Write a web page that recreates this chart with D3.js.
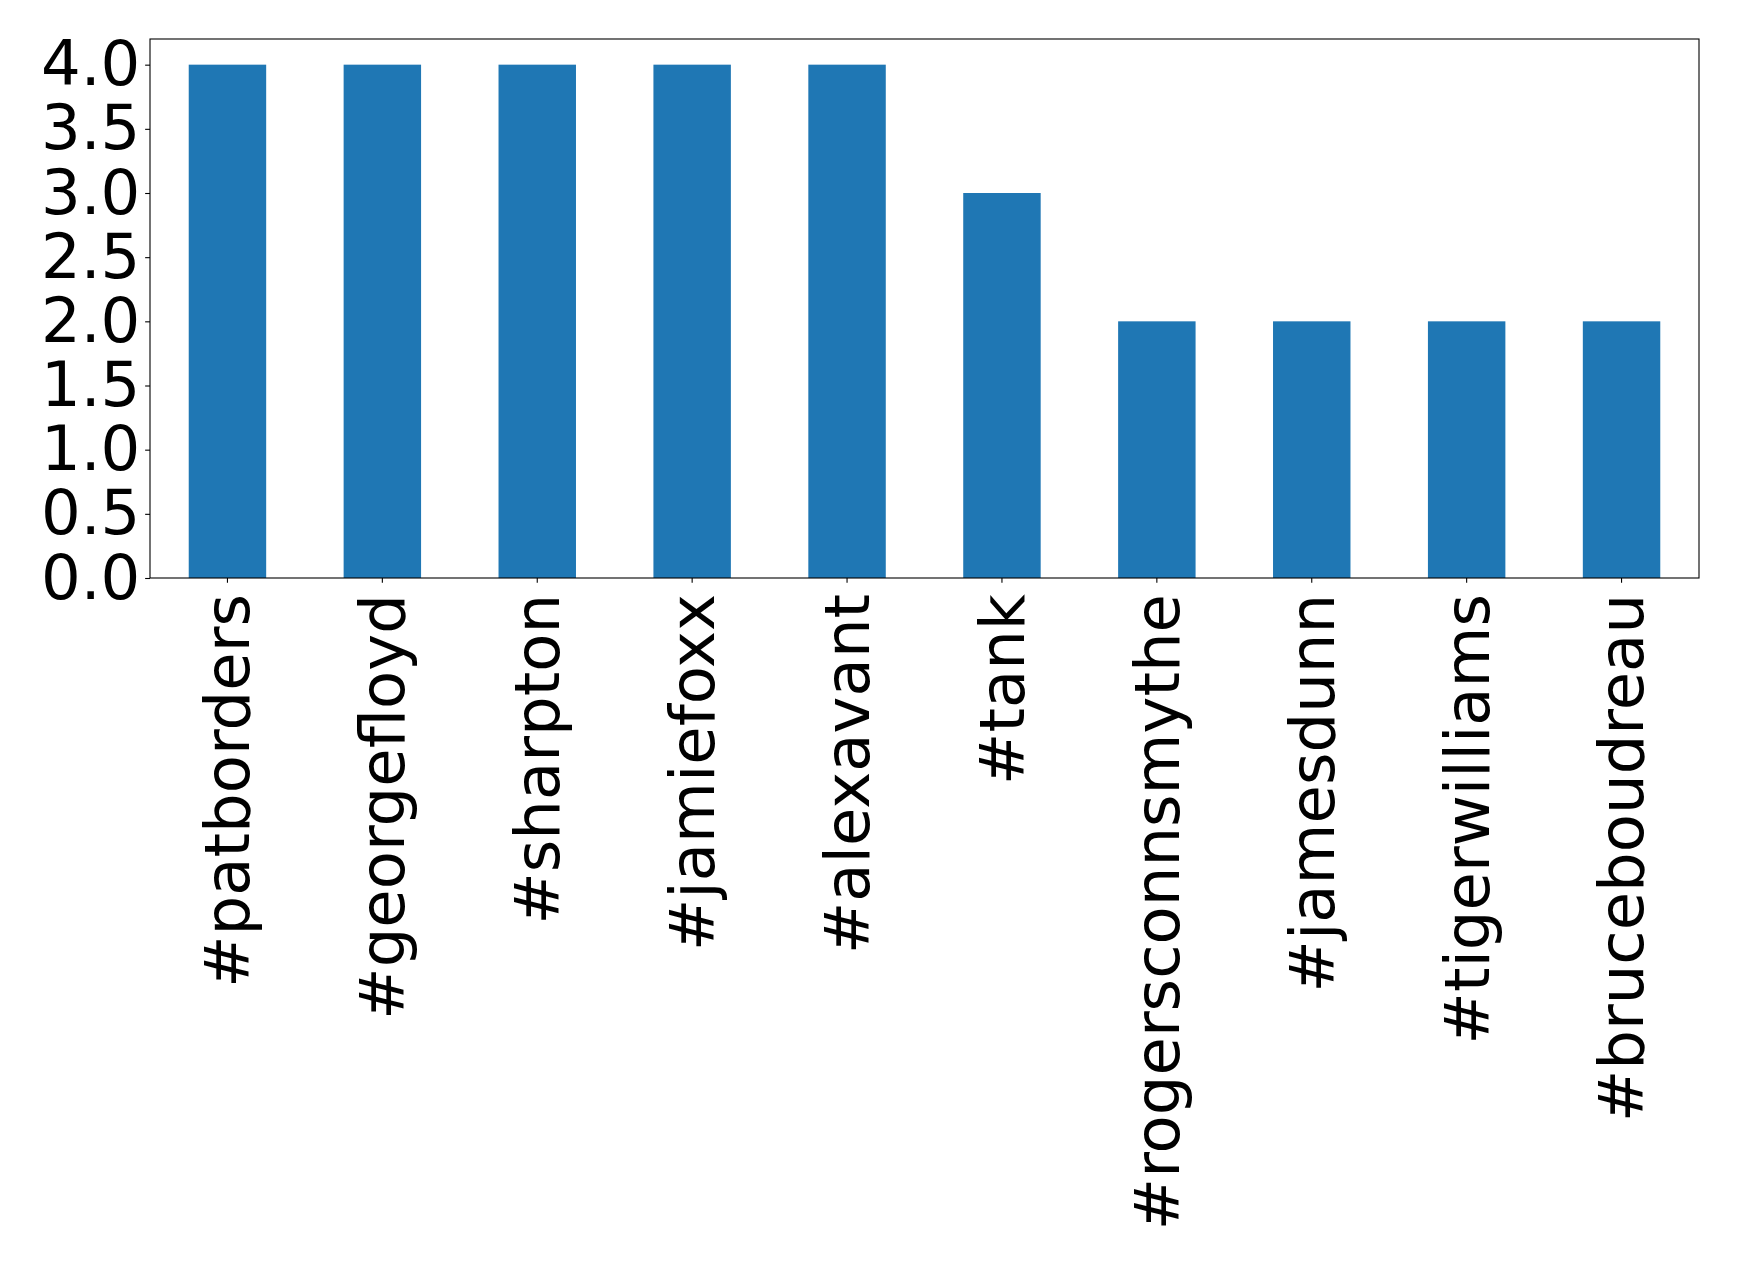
<!DOCTYPE html>
<html>
<head>
<meta charset="utf-8">
<script src="https://cdn.jsdelivr.net/npm/d3@7"></script>
<style>
  html, body { margin: 0; padding: 0; background: #fff; }
  svg { display: block; }
</style>
</head>
<body>
<svg id="chart" width="1739" height="1264"></svg>
<script>
const categories = ["#patborders", "#georgefloyd", "#sharpton", "#jamiefoxx", "#alexavant",
                    "#tank", "#rogersconnsmythe", "#jamesdunn", "#tigerwilliams", "#bruceboudreau"];
const counts = [4, 4, 4, 4, 4, 3, 2, 2, 2, 2];
const yTicks = [0, 0.5, 1, 1.5, 2, 2.5, 3, 3.5, 4];

(function () {
const W = 1739, H = 1264;
const mLeft = 150, mRight = 1699, mTop = 39, mBottom = 578;
const fontSize = 62.5;
const font = "'DejaVu Sans', sans-serif";

const svg = d3.select("#chart");
svg.append("rect").attr("width", W).attr("height", H).attr("fill", "#fff");

const x = d3.scaleBand().domain(categories).range([mLeft, mRight])
  .paddingInner(0.5).paddingOuter(0.25);
const y = d3.scaleLinear().domain([0, 4.2]).range([mBottom, mTop]);

svg.append("g").selectAll("rect").data(categories).join("rect")
  .attr("x", d => x(d))
  .attr("width", x.bandwidth())
  .attr("y", (d, i) => y(counts[i]))
  .attr("height", (d, i) => y(0) - y(counts[i]))
  .attr("fill", "#1f77b4");

// Y axis
const yAxis = svg.append("g").attr("transform", `translate(${mLeft},0)`)
  .call(d3.axisLeft(y).tickValues(yTicks).tickFormat(d3.format(".1f")).tickSize(4.86).tickPadding(4.86));
yAxis.select(".domain").remove();
yAxis.selectAll("line").attr("stroke", "#000").attr("stroke-width", 1.1);
yAxis.selectAll("text").attr("font-size", fontSize).attr("font-family", font).attr("fill", "#000");

// X axis
const xAxis = svg.append("g").attr("transform", `translate(0,${mBottom})`)
  .call(d3.axisBottom(x).tickSize(4.86).tickPadding(4.86));
xAxis.select(".domain").remove();
xAxis.selectAll("line").attr("stroke", "#000").attr("stroke-width", 1.1);
xAxis.selectAll("text")
  .attr("font-size", fontSize).attr("font-family", font).attr("fill", "#000")
  .attr("transform", "rotate(-90)")
  .attr("x", -16).attr("y", 0).attr("dy", "0.35em")
  .attr("text-anchor", "end");

// Frame
svg.append("rect").attr("x", mLeft).attr("y", mTop)
  .attr("width", mRight - mLeft).attr("height", mBottom - mTop)
  .attr("fill", "none").attr("stroke", "#000").attr("stroke-width", 1.1);
})();
</script>
</body>
</html>
